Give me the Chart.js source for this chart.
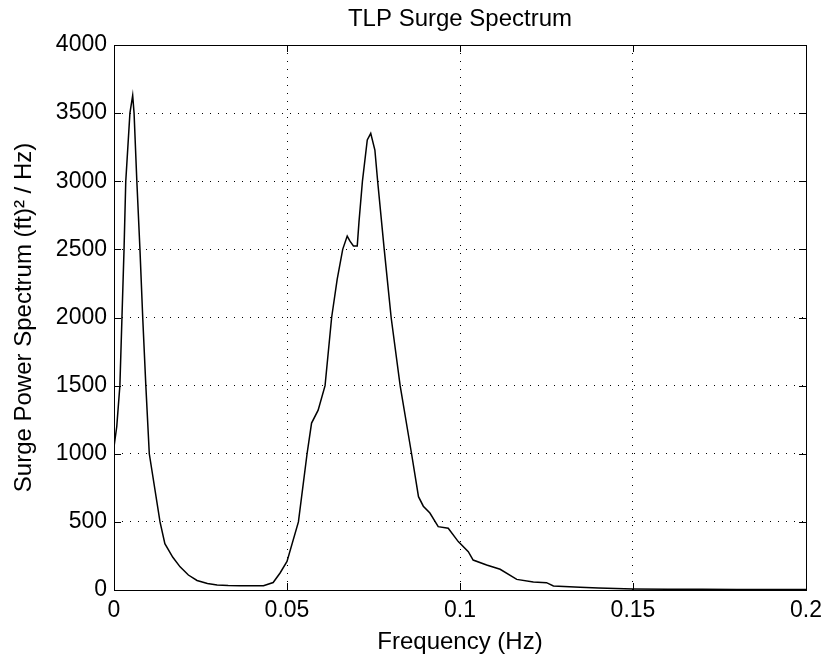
<!DOCTYPE html>
<html>
<head>
<meta charset="utf-8">
<script src="https://cdn.jsdelivr.net/npm/chart.js@4/dist/chart.umd.min.js"></script>
<style>
  html, body { margin: 0; padding: 0; background: #fff; }
  #wrap { width: 822px; height: 657px; }
</style>
</head>
<body>
<div id="wrap"><canvas id="c" width="822" height="657"></canvas></div>
<script>
const chartTitle = "TLP Surge Spectrum";
const xTitle = "Frequency (Hz)";
const yTitle = "Surge Power Spectrum (ft)\u00B2 / Hz)";

const frequency = [
  0.0000, 0.0008, 0.0017, 0.0023, 0.0029, 0.0034, 0.0046, 0.0054, 0.0058, 0.0066,
  0.0075, 0.0083, 0.0092, 0.0102, 0.0133, 0.0147, 0.0170, 0.0191, 0.0215, 0.0240,
  0.0270, 0.0298, 0.0330, 0.0364, 0.0400, 0.0432, 0.0460, 0.0480, 0.0500, 0.0533,
  0.0558, 0.0571, 0.0590, 0.0610, 0.0629, 0.0645, 0.0661, 0.0674, 0.0682, 0.0692,
  0.0703, 0.0708, 0.0718, 0.0732, 0.0742, 0.0754, 0.0762, 0.0781, 0.0801, 0.0827,
  0.0860, 0.0880, 0.0894, 0.0913, 0.0937, 0.0966, 0.0995, 0.1024, 0.1038, 0.1077,
  0.1116, 0.1164, 0.1212, 0.1250, 0.1270, 0.1347, 0.1400, 0.1500, 0.1600, 0.1700,
  0.1800, 0.1900, 0.2000
];
const surgePower = [
  1050, 1200, 1500, 2000, 2500, 3000, 3500, 3630, 3500, 3000,
  2500, 2000, 1500, 1000,  500,  340,  240,  170,  110,   70,
    48,   37,   33,   32,   32,   32,   55,  125,  210,  500,
  1000, 1225, 1320, 1500, 2000, 2280, 2500, 2598, 2560, 2525,
  2525, 2700, 3000, 3303, 3352, 3229, 3000, 2500, 2000, 1500,
  1000,  685,  615,  565,  465,  453,  355,  281,  220,  183,
   152,   78,   59,   54,   30,   20,   15,    8,    6,    5,
     4,    4,    3
];
const xTicks = [0, 0.05, 0.1, 0.15, 0.2];
const yTicks = [0, 500, 1000, 1500, 2000, 2500, 3000, 3500, 4000];

const FONT = "'Liberation Sans', Arial, sans-serif";

const boxAndTicks = {
  id: 'boxAndTicks',
  afterDatasetsDraw(chart) {
    const {ctx, chartArea: a, scales} = chart;
    const len = 7;
    ctx.save();
    ctx.strokeStyle = '#000';
    ctx.lineWidth = 1;
    ctx.beginPath();
    scales.x.ticks.forEach(t => {
      const px = Math.round(scales.x.getPixelForValue(t.value)) + 0.5;
      ctx.moveTo(px, a.bottom); ctx.lineTo(px, a.bottom - len);
      ctx.moveTo(px, a.top); ctx.lineTo(px, a.top + len);
    });
    scales.y.ticks.forEach(t => {
      const py = Math.round(scales.y.getPixelForValue(t.value)) + 0.5;
      ctx.moveTo(a.left, py); ctx.lineTo(a.left + len, py);
      ctx.moveTo(a.right, py); ctx.lineTo(a.right - len, py);
    });
    ctx.stroke();
    ctx.strokeRect(Math.round(a.left) + 0.5, Math.round(a.top) + 0.5,
                   Math.round(a.right - a.left), Math.round(a.bottom - a.top));
    ctx.restore();
  }
};

new Chart(document.getElementById('c'), {
  type: 'line',
  data: {
    datasets: [{
      data: frequency.map((f, i) => ({x: f, y: surgePower[i]})),
      borderColor: '#000',
      borderWidth: 1.5,
      pointRadius: 0,
      tension: 0,
      fill: false
    }]
  },
  options: {
    responsive: false,
    animation: false,
    devicePixelRatio: 1,
    layout: { padding: { left: 0, right: 16, top: 0, bottom: 0 } },
    plugins: {
      legend: { display: false },
      tooltip: { enabled: false },
      title: { display: false }
    },
    scales: {
      x: {
        type: 'linear',
        min: 0, max: 0.2,
        afterBuildTicks: s => { s.ticks = xTicks.map(v => ({value: v})); },
        afterFit: s => { s.height = 67; s.paddingLeft = 0; s.paddingRight = 0; },
        ticks: {
          color: '#000',
          font: { family: FONT, size: 23 },
          padding: 7,
          maxRotation: 0,
          callback: v => String(v)
        },
        grid: {
          color: '#000',
          lineWidth: 1,
          drawTicks: false
        },
        border: { display: false, dash: [1, 7] },
        title: {
          display: true,
          text: xTitle,
          color: '#000',
          font: { family: FONT, size: 24, lineHeight: 1.2 },
          padding: { top: 0, bottom: 0 }
        }
      },
      top: {
        type: 'linear',
        position: 'top',
        min: 0, max: 0.2,
        afterFit: s => { s.height = 45; s.paddingLeft = 0; s.paddingRight = 0; },
        ticks: { display: false },
        grid: { display: false, drawTicks: false },
        border: { display: false },
        title: {
          display: true,
          text: chartTitle,
          color: '#000',
          font: { family: FONT, size: 24, lineHeight: 1.2 },
          padding: { top: 5, bottom: 0 }
        }
      },
      y: {
        type: 'linear',
        min: 0, max: 4000,
        afterBuildTicks: s => { s.ticks = yTicks.map(v => ({value: v})); },
        afterFit: s => { s.width = 114; },
        ticks: {
          color: '#000',
          font: { family: FONT, size: 23 },
          padding: 7,
          callback: v => String(v)
        },
        grid: {
          color: '#000',
          lineWidth: 1,
          drawTicks: false
        },
        border: { display: false, dash: [1, 7] },
        title: {
          display: true,
          text: yTitle,
          color: '#000',
          font: { family: FONT, size: 24, lineHeight: 1.2 },
          padding: { top: 10, bottom: 0 }
        }
      }
    }
  },
  plugins: [boxAndTicks]
});
</script>
</body>
</html>
